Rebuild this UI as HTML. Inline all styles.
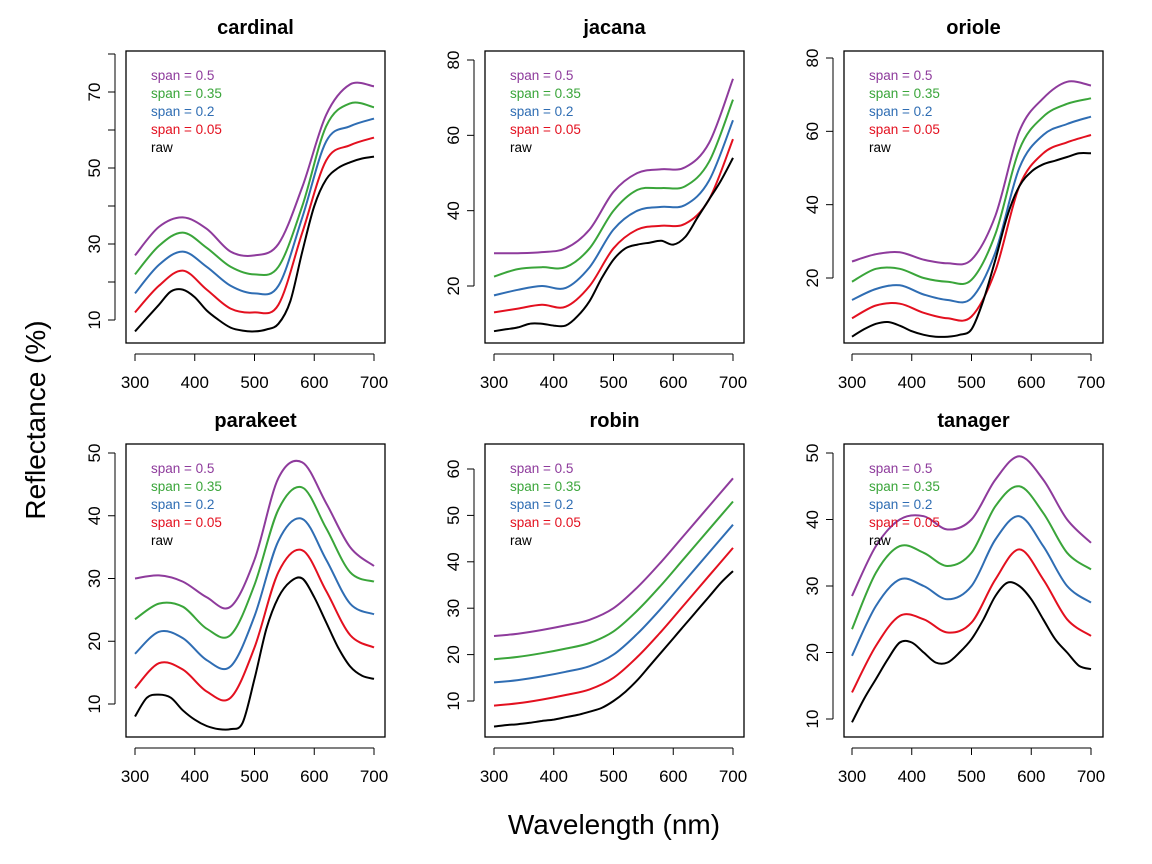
<!DOCTYPE html>
<html><head><meta charset="utf-8"><style>
body{margin:0;background:#fff;}
svg{display:block;font-family:"Liberation Sans",Arial,sans-serif;}
</style></head><body>
<svg id="chart" width="1152" height="864" viewBox="0 0 1152 864">
<text transform="translate(45,420) rotate(-90)" text-anchor="middle" font-size="28">Reflectance (%)</text>
<text x="614" y="834" text-anchor="middle" font-size="28">Wavelength (nm)</text>
</svg>
<script>
const rawX = [300,320,340,360,380,400,420,440,460,480,500,520,540,560,580,600,620,640,660,680,700];
const smoothX = [300,340,380,420,460,500,540,580,620,660,700];
const legendLabels = ["span = 0.5","span = 0.35","span = 0.2","span = 0.05","raw"];
const legendColors = ["#8e3b9c","#3aa53a","#2f6db3","#e3101f","#000"];
const xTicks = [300,400,500,600,700];

const cardinalRaw = [7,10.5,14,17.5,18,16,12.5,10,8,7.2,7,7.5,9,15,28,40,47,50,51.5,52.5,53];
const cardinalRed = [12,19,23,18,13,12,14,33,52,56,58];
const cardinalBlue = [17,24.5,28,24,19,17,19,37,57,61,63];
const cardinalGreen = [22,29.5,33,29,24,22,24,40,61,67,66];
const cardinalPurple = [27,34.5,37,34,28,27,30,45,64,72,71.5];

const jacanaRaw = [8,8.5,9,10,10,9.5,9.5,12,16,22,27,30,31,31.5,32,31,33,38,43,48,54];
const jacanaRed = [13,14,15,14.5,20,30,35,36,36.5,43,59];
const jacanaBlue = [17.5,19,20,19.5,25,35,40,41,41.5,48,64];
const jacanaGreen = [22.5,24.5,25,25,30,40,45.5,46,46.5,53,69.5];
const jacanaPurple = [28.7,28.7,29,30,35,45,50,51,51.5,58,75];

const orioleRaw = [4,6,7.5,8,7,5.5,4.5,4,4,4.5,6,14,25,37,45,49,51,52,53,54,54];
const orioleRed = [9,12.5,13,10.5,9,9.5,22,45,54,57,59];
const orioleBlue = [14,17,18,15.5,14,14.5,27,50,59,62,64];
const orioleGreen = [19,22.5,22.5,20,19,19.5,32,55,64,67.5,69];
const oriolePurple = [24.5,26.5,27,25,24,25,37,60,69,73.5,72.5];

const parakeetRaw = [8,11,11.5,11,9,7.5,6.5,6,6,7,14,22,27,29.5,30,27,23,19,16,14.5,14];
const parakeetRed = [12.5,16.5,15.5,12,11,19,31,34.5,28,21,19];
const parakeetBlue = [18,21.5,20.5,17,16,24,36,39.5,33,26,24.3];
const parakeetGreen = [23.5,26,25.5,22,21,29,41,44.5,38,31,29.5];
const parakeetPurple = [30,30.5,29.5,27,25.5,33,46,48.5,42,35,32];

const robinRaw = [4.5,4.8,5,5.3,5.7,6,6.5,7,7.7,8.5,10,12,14.5,17.5,20.5,23.5,26.5,29.5,32.5,35.5,38];
const robinRed = [9,9.5,10.3,11.3,12.5,15,19.5,25,31,37,43];
const robinBlue = [14,14.5,15.3,16.3,17.5,20,24.5,30,36,42,48];
const robinGreen = [19,19.5,20.3,21.3,22.5,25,29.5,35,41,47,53];
const robinPurple = [24,24.5,25.3,26.3,27.5,30,34.5,40,46,52,58];

const tanagerRaw = [9.5,13,16,19,21.5,21.5,20,18.5,18.5,20,22,25,28.5,30.5,30,28,25,22,20,18,17.5];
const tanagerRed = [14,21,25.5,25,23,24.5,31,35.5,31,25,22.5];
const tanagerBlue = [19.5,27,31,30,28,30,37,40.5,36,30,27.5];
const tanagerGreen = [23.5,32,36,35,33,35,42,45,41,35,32.5];
const tanagerPurple = [28.5,36,40,40.5,38.5,40,46,49.5,46,40,36.5];

const panels = [
 {name:"cardinal",box:[126,51,385,343],x0:135,x1:374,ya:[10,320],yb:[70,92],ticks:[10,20,30,40,50,60,70,80],labels:[10,30,50,70],raw:cardinalRaw,sm:[cardinalPurple,cardinalGreen,cardinalBlue,cardinalRed]},
 {name:"jacana",box:[485,51,744,343],x0:494,x1:733,ya:[20,286],yb:[80,60],ticks:[20,40,60,80],labels:[20,40,60,80],raw:jacanaRaw,sm:[jacanaPurple,jacanaGreen,jacanaBlue,jacanaRed]},
 {name:"oriole",box:[844,51,1103,343],x0:852,x1:1091,ya:[20,278],yb:[80,58],ticks:[20,40,60,80],labels:[20,40,60,80],raw:orioleRaw,sm:[oriolePurple,orioleGreen,orioleBlue,orioleRed]},
 {name:"parakeet",box:[126,444,385,737],x0:135,x1:374,ya:[10,704],yb:[50,453],ticks:[10,20,30,40,50],labels:[10,20,30,40,50],raw:parakeetRaw,sm:[parakeetPurple,parakeetGreen,parakeetBlue,parakeetRed]},
 {name:"robin",box:[485,444,744,737],x0:494,x1:733,ya:[10,701],yb:[60,469],ticks:[10,20,30,40,50,60],labels:[10,20,30,40,50,60],raw:robinRaw,sm:[robinPurple,robinGreen,robinBlue,robinRed]},
 {name:"tanager",box:[844,444,1103,737],x0:852,x1:1091,ya:[10,719],yb:[50,453],ticks:[10,20,30,40,50],labels:[10,20,30,40,50],raw:tanagerRaw,sm:[tanagerPurple,tanagerGreen,tanagerBlue,tanagerRed]}
];

const NS="http://www.w3.org/2000/svg";
const svg=document.getElementById("chart");
function mk(tag,attrs,parent){const e=document.createElementNS(NS,tag);for(const k in attrs)e.setAttribute(k,attrs[k]);(parent||svg).appendChild(e);return e;}
function spline(pts){
 let d="M"+pts[0][0].toFixed(1)+","+pts[0][1].toFixed(1);
 for(let i=0;i<pts.length-1;i++){
  const p0=pts[Math.max(0,i-1)],p1=pts[i],p2=pts[i+1],p3=pts[Math.min(pts.length-1,i+2)];
  const c1=[p1[0]+(p2[0]-p0[0])/6,p1[1]+(p2[1]-p0[1])/6];
  const c2=[p2[0]-(p3[0]-p1[0])/6,p2[1]-(p3[1]-p1[1])/6];
  d+=" C"+c1[0].toFixed(1)+","+c1[1].toFixed(1)+" "+c2[0].toFixed(1)+","+c2[1].toFixed(1)+" "+p2[0].toFixed(1)+","+p2[1].toFixed(1);
 }
 return d;
}
panels.forEach(p=>{
 const g=mk("g",{});
 
 
 const [bl,bt,br,bb]=p.box;
 const xs=v=>p.x0+(v-300)*(p.x1-p.x0)/400;
 const ys=v=>p.ya[1]+(v-p.ya[0])*(p.yb[1]-p.ya[1])/(p.yb[0]-p.ya[0]);
 const t=mk("text",{x:(bl+br)/2,y:bt-17,"text-anchor":"middle","font-size":"20","font-weight":"bold"},g);
 t.textContent=p.name;
 
 
 const xa=mk("g",{},g);
 
 
 mk("line",{x1:xs(300),x2:xs(700),y1:bb+11,y2:bb+11,stroke:"#000","stroke-width":"1"},xa);
 xTicks.forEach(v=>{
  mk("line",{x1:xs(v),x2:xs(v),y1:bb+11,y2:bb+18,stroke:"#000"},xa);
  const l=mk("text",{x:xs(v),y:bb+45,"text-anchor":"middle","font-size":"17"},xa);l.textContent=v;
 });
 const ya=mk("g",{},g);
 
 
 const tk=p.ticks;
 mk("line",{x1:bl-11,x2:bl-11,y1:ys(tk[0]),y2:ys(tk[tk.length-1]),stroke:"#000"},ya);
 tk.forEach(v=>{mk("line",{x1:bl-11,x2:bl-18,y1:ys(v),y2:ys(v),stroke:"#000"},ya);});
 p.labels.forEach(v=>{const l=mk("text",{transform:"translate("+(bl-26)+","+ys(v)+") rotate(-90)","text-anchor":"middle","font-size":"17"},ya);l.textContent=v;});
 const b=mk("rect",{x:bl,y:bt,width:br-bl,height:bb-bt,fill:"none",stroke:"#000","stroke-width":"1.3"},g);
 
 
 p.sm.forEach((arr,i)=>{
  const path=mk("path",{d:spline(arr.map((v,j)=>[xs(smoothX[j]),ys(v)])),fill:"none",stroke:legendColors[i],"stroke-width":"2"},g);
  
  
 });
 const rp=mk("path",{d:spline(p.raw.map((v,j)=>[xs(rawX[j]),ys(v)])),fill:"none",stroke:"#000","stroke-width":"2"},g);
 
 
 const lg=mk("g",{},g);
 
 
 legendLabels.forEach((s,i)=>{
  const l=mk("text",{x:bl+25,y:bt+29+i*18,"font-size":"13.5",fill:legendColors[i]},lg);
  l.textContent=s;
  
  
 });
});
</script>
</body></html>
